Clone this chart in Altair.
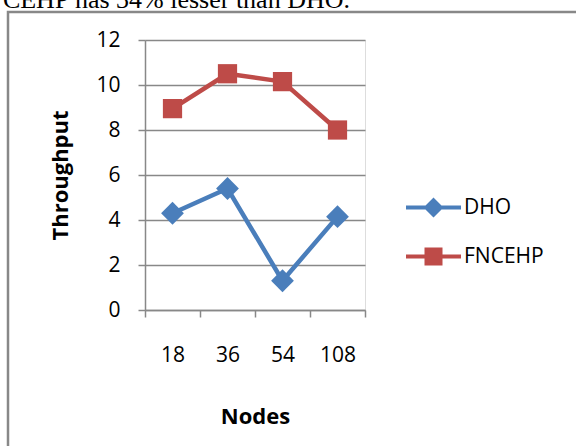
import altair as alt
import pandas as pd

nodes = ["18", "36", "54", "108"]
dho = [4.3, 5.4, 1.3, 4.15]
fncehp = [8.95, 10.5, 10.15, 8.0]
series_names = ["DHO", "FNCEHP"]
series_colors = ["#4A7EBB", "#BE4B48"]
y_ticks = [0, 2, 4, 6, 8, 10, 12]
caption = ["CEHP has 34% lesser than DHO."]

df = pd.DataFrame({
    "Nodes": nodes * 2,
    "Throughput": dho + fncehp,
    "Series": ["DHO"] * len(nodes) + ["FNCEHP"] * len(nodes),
})

GRAY = "#888888"
FONT = "Open Sans"

x_enc = alt.X(
    "Nodes:N",
    sort=nodes,
    scale=alt.Scale(type="band", paddingInner=0, paddingOuter=0),
    bandPosition=0.5,
    axis=alt.Axis(
        tickBand="extent", ticks=True, tickSize=7, tickColor=GRAY, tickWidth=1.5,
        domainColor=GRAY, domainWidth=1.5, grid=False, labelAngle=0,
        labelFont=FONT, labelFontSize=21, labelColor="black", labelPadding=27,
        title="Nodes", titleFont=FONT, titleFontSize=22, titleFontWeight="bold",
        titleColor="black", titleX=110, titleY=106, titleBaseline="middle",
        titleAlign="center",
    ),
)
y_enc = alt.Y(
    "Throughput:Q",
    scale=alt.Scale(domain=[0, 12], nice=False),
    axis=alt.Axis(
        values=y_ticks, grid=True, gridColor=GRAY, gridWidth=1.5,
        tickSize=7, tickColor=GRAY, tickWidth=1.5, domainColor=GRAY, domainWidth=1.5,
        labelFont=FONT, labelFontSize=21, labelColor="black", labelPadding=18,
        title="Throughput", titleFont=FONT, titleFontSize=22, titleFontWeight="bold",
        titleColor="black", titleAngle=270, titleX=-85, titleY=135,
        titleBaseline="middle", titleAlign="center",
    ),
)

color_scale = alt.Scale(domain=series_names, range=series_colors)

diamond_path = "M-2.75,-0.2H2.75V0.2H-2.75Z M0,-1L1,0L0,1L-1,0Z"
square_path = "M-2.75,-0.2H2.75V0.2H-2.75Z M-0.9,-0.9H0.9V0.9H-0.9Z"


def legend_props(sym_path, fill_col, ly):
    return alt.Legend(
        orient="none", legendX=278, legendY=ly, title=None, padding=0,
        symbolType=sym_path, symbolSize=400, symbolFillColor=fill_col,
        symbolStrokeColor=fill_col, symbolStrokeWidth=0, symbolOpacity=1,
        labelFont=FONT, labelFontSize=21, labelColor="black", labelOffset=20,
    )


base = alt.Chart(df)

lines = base.mark_line(strokeWidth=4.5, strokeJoin="round", strokeCap="round").encode(
    x=x_enc, y=y_enc,
    color=alt.Color("Series:N", scale=color_scale, legend=None),
    detail="Series:N",
)

points = base.mark_point(filled=True, opacity=1, strokeWidth=0).encode(
    x=x_enc, y=y_enc,
    color=alt.Color("Series:N", scale=color_scale, legend=None),
    shape=alt.Shape("Series:N", scale=alt.Scale(domain=series_names, range=["diamond", "square"]), legend=None),
    size=alt.Size("Series:N", scale=alt.Scale(domain=series_names, range=[520, 370]), legend=None),
)

# legend-only layers (no marks drawn: data filtered out, scale domains explicit)
leg_a = base.transform_filter("false").mark_point(filled=True, fill=series_colors[0]).encode(
    x=x_enc, y=y_enc,
    fill=alt.Fill("Series:N", scale=alt.Scale(domain=[series_names[0]], range=[series_colors[0]]),
                  legend=legend_props(diamond_path, series_colors[0], 157)),
)
leg_b = base.transform_filter("false").mark_point(filled=True, fill=series_colors[1]).encode(
    x=x_enc, y=y_enc,
    stroke=alt.Stroke("Series:N", scale=alt.Scale(domain=[series_names[1]], range=[series_colors[1]]),
                      legend=legend_props(square_path, series_colors[1], 206)),
)

border = alt.Chart(pd.DataFrame({"k": [0]})).mark_rect(
    filled=False, stroke=GRAY, strokeWidth=2.5
).encode(
    x=alt.value(-137), x2=alt.value(480), y=alt.value(-28), y2=alt.value(420)
)

cap = alt.Chart(pd.DataFrame({"t": caption})).mark_text(
    font="Liberation Serif", fontSize=26, align="right", baseline="alphabetic", color="black"
).encode(
    x=alt.value(205), y=alt.value(-32), text="t:N"
)

chart = alt.layer(border, cap, lines, points, leg_a, leg_b).properties(
    width=220, height=270,
    autosize=alt.AutoSizeParams(type="none"),
    padding={"left": 145, "top": 40, "right": 211, "bottom": 136},
).configure_view(stroke=None).configure(background="white")

chart.save("out.html", embed_options={"renderer": "svg", "actions": False})
